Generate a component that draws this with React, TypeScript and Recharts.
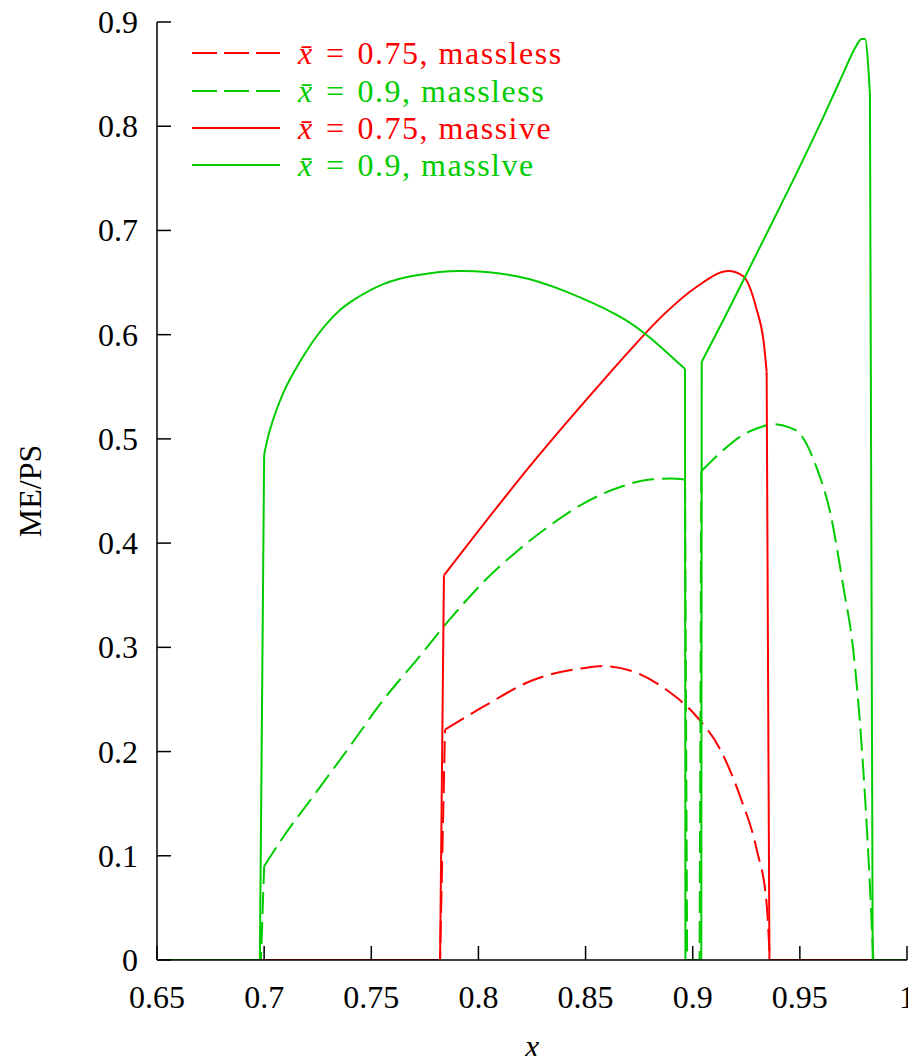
import { LineChart, Line, XAxis, YAxis, Legend } from 'recharts'

// x ticks / y ticks
const X_TICKS = [0.65, 0.7, 0.75, 0.8, 0.85, 0.9, 0.95, 1]
const Y_TICKS = [0, 0.1, 0.2, 0.3, 0.4, 0.5, 0.6, 0.7, 0.8, 0.9]

// xbar = 0.75, massless (red dashed): flat/jump parts and the smooth arc
const RED_DASH_EDGE_L = [{ x: 0.65, y: 0 }, { x: 0.7821, y: 0 }, { x: 0.7844, y: 0.221 }]
const RED_DASH_ARC = [
  { x: 0.7844, y: 0.221 }, { x: 0.8023, y: 0.243 }, { x: 0.8256, y: 0.2687 },
  { x: 0.849, y: 0.28 }, { x: 0.8583, y: 0.282 }, { x: 0.8723, y: 0.2767 },
  { x: 0.8879, y: 0.259 }, { x: 0.9019, y: 0.2334 }, { x: 0.9127, y: 0.2025 },
  { x: 0.9221, y: 0.157 }, { x: 0.9299, y: 0.1055 }, { x: 0.9345, y: 0.0537 },
  { x: 0.936, y: 0 },
]
const RED_DASH_EDGE_R = [{ x: 0.936, y: 0 }, { x: 1, y: 0 }]

// xbar = 0.9, massless (green dashed)
const GREEN_DASH_EDGE_L = [{ x: 0.65, y: 0 }, { x: 0.6985, y: 0 }, { x: 0.7, y: 0.09 }]
const GREEN_DASH_ARC_1 = [
  { x: 0.7, y: 0.09 }, { x: 0.7089, y: 0.118 }, { x: 0.7245, y: 0.1615 },
  { x: 0.74, y: 0.205 }, { x: 0.7556, y: 0.2495 }, { x: 0.7712, y: 0.288 },
  { x: 0.7867, y: 0.327 }, { x: 0.8023, y: 0.3626 }, { x: 0.8179, y: 0.392 },
  { x: 0.8334, y: 0.417 }, { x: 0.849, y: 0.438 }, { x: 0.8645, y: 0.4526 },
  { x: 0.8801, y: 0.461 }, { x: 0.89, y: 0.462 }, { x: 0.8964, y: 0.461 },
]
const GREEN_DASH_GAP = [
  { x: 0.8964, y: 0.461 }, { x: 0.8974, y: 0 }, { x: 0.9032, y: 0 }, { x: 0.904, y: 0.469 },
]
const GREEN_DASH_ARC_2 = [
  { x: 0.904, y: 0.469 }, { x: 0.9141, y: 0.489 }, { x: 0.922, y: 0.502 },
  { x: 0.9299, y: 0.51 }, { x: 0.9376, y: 0.514 }, { x: 0.945, y: 0.511 },
  { x: 0.95, y: 0.505 }, { x: 0.9579, y: 0.472 }, { x: 0.9641, y: 0.43 },
  { x: 0.9703, y: 0.358 }, { x: 0.975, y: 0.296 }, { x: 0.9781, y: 0.226 },
  { x: 0.9804, y: 0.157 }, { x: 0.9827, y: 0.071 }, { x: 0.9843, y: 0 },
]
const GREEN_DASH_EDGE_R = [{ x: 0.9843, y: 0 }, { x: 1, y: 0 }]

// xbar = 0.75, massive (red solid)
const RED_SOLID_EDGE_L = [{ x: 0.65, y: 0 }, { x: 0.7821, y: 0 }, { x: 0.7839, y: 0.369 }]
const RED_SOLID_ARC = [
  { x: 0.7839, y: 0.369 }, { x: 0.8085, y: 0.434 }, { x: 0.8241, y: 0.474 },
  { x: 0.8396, y: 0.512 }, { x: 0.8552, y: 0.549 }, { x: 0.8707, y: 0.585 },
  { x: 0.8863, y: 0.619 }, { x: 0.9019, y: 0.646 }, { x: 0.9166, y: 0.661 },
  { x: 0.9236, y: 0.656 }, { x: 0.9299, y: 0.6237 }, { x: 0.933, y: 0.595 },
  { x: 0.9345, y: 0.5645 },
]
const RED_SOLID_EDGE_R = [{ x: 0.9345, y: 0.5645 }, { x: 0.9358, y: 0 }, { x: 1, y: 0 }]

// xbar = 0.9, massive (green solid)
const GREEN_SOLID_EDGE_L = [{ x: 0.65, y: 0 }, { x: 0.698, y: 0 }, { x: 0.7, y: 0.4846 }]
const GREEN_SOLID_ARC_1 = [
  { x: 0.7, y: 0.4846 }, { x: 0.7027, y: 0.5086 }, { x: 0.7089, y: 0.544 },
  { x: 0.7167, y: 0.574 }, { x: 0.7245, y: 0.5985 }, { x: 0.7323, y: 0.6175 },
  { x: 0.74, y: 0.631 }, { x: 0.7556, y: 0.6485 }, { x: 0.7712, y: 0.657 },
  { x: 0.7914, y: 0.661 }, { x: 0.8179, y: 0.656 }, { x: 0.8412, y: 0.641 },
  { x: 0.8645, y: 0.619 }, { x: 0.8801, y: 0.597 }, { x: 0.8964, y: 0.567 },
]
const GREEN_SOLID_GAP = [
  { x: 0.8964, y: 0.567 }, { x: 0.8966, y: 0 }, { x: 0.904, y: 0 }, { x: 0.9042, y: 0.574 },
]
const GREEN_SOLID_ARC_2 = [
  { x: 0.9042, y: 0.574 }, { x: 0.9143, y: 0.614 }, { x: 0.9299, y: 0.678 },
  { x: 0.9454, y: 0.742 }, { x: 0.961, y: 0.809 }, { x: 0.9703, y: 0.851 },
  { x: 0.9757, y: 0.8748 }, { x: 0.9788, y: 0.8837 }, { x: 0.9804, y: 0.8837 },
  { x: 0.9827, y: 0.8316 },
]
const GREEN_SOLID_EDGE_R = [{ x: 0.9827, y: 0.8316 }, { x: 0.984, y: 0 }, { x: 1, y: 0 }]

const RED = '#ff0000'
const GREEN = '#00cc00'
const DASH = '22 8'
const FONT = "'Liberation Serif', 'Times New Roman', serif"
const FONT_SIZE = 32
const TICK_LEN = 14

const SERIES = [
  { id: 'a', color: RED, dash: DASH, xbar: '0.75', kind: 'massless',
    pieces: [[RED_DASH_EDGE_L, 'linear'], [RED_DASH_ARC, 'monotone'], [RED_DASH_EDGE_R, 'linear']] },
  { id: 'b', color: GREEN, dash: DASH, xbar: '0.9', kind: 'massless',
    pieces: [[GREEN_DASH_EDGE_L, 'linear'], [GREEN_DASH_ARC_1, 'monotone'], [GREEN_DASH_GAP, 'linear'],
      [GREEN_DASH_ARC_2, 'monotone'], [GREEN_DASH_EDGE_R, 'linear']] },
  { id: 'c', color: RED, dash: undefined, xbar: '0.75', kind: 'massive',
    pieces: [[RED_SOLID_EDGE_L, 'linear'], [RED_SOLID_ARC, 'monotone'], [RED_SOLID_EDGE_R, 'linear']] },
  { id: 'd', color: GREEN, dash: undefined, xbar: '0.9', kind: 'masslve',
    pieces: [[GREEN_SOLID_EDGE_L, 'linear'], [GREEN_SOLID_ARC_1, 'natural'], [GREEN_SOLID_GAP, 'linear'],
      [GREEN_SOLID_ARC_2, 'monotone'], [GREEN_SOLID_EDGE_R, 'linear']] },
] as const

const textStyle = { fontFamily: FONT, fontSize: FONT_SIZE, fill: '#000' }

const BottomTick = ({ x, y, payload }: any) => (
  <g>
    <line x1={x} y1={y} x2={x} y2={y - TICK_LEN} stroke="#000" strokeWidth={1.5} />
    <text x={x} y={y + 48} textAnchor="middle" style={textStyle}>
      {String(payload.value)}
    </text>
  </g>
)

const TopTick = ({ x, y }: any) => (
  <line x1={x} y1={y} x2={x} y2={y + TICK_LEN} stroke="#000" strokeWidth={1.5} />
)

const LeftTick = ({ x, y, payload }: any) => (
  <g>
    <line x1={x} y1={y} x2={x + TICK_LEN} y2={y} stroke="#000" strokeWidth={1.5} />
    <text x={x - 19} y={y + 11} textAnchor="end" style={textStyle}>
      {String(payload.value)}
    </text>
  </g>
)

const RightTick = ({ x, y }: any) => (
  <line x1={x} y1={y} x2={x - TICK_LEN} y2={y} stroke="#000" strokeWidth={1.5} />
)

const LEGEND_ROWS = [53, 91, 128, 165]

function LegendBox() {
  return (
    <div style={{ position: 'relative', width: 620, height: 190 }}>
      {SERIES.map((s, i) => (
        <div
          key={s.id}
          style={{
            position: 'absolute', left: 192, top: LEGEND_ROWS[i] - 18, height: 36,
            display: 'flex', alignItems: 'center', whiteSpace: 'nowrap',
          }}
        >
          <svg width={88} height={36}>
            <line x1={0} y1={18} x2={88} y2={18} stroke={s.color} strokeWidth={2} strokeDasharray={s.dash ? '25 7' : undefined} />
          </svg>
          <span style={{ marginLeft: 18, color: s.color, fontFamily: FONT, fontSize: FONT_SIZE, lineHeight: '36px', letterSpacing: 1.5 }}>
            <i>x&#772;</i>{'\u2004=\u2004'}{s.xbar}, {s.kind}
          </span>
        </div>
      ))}
    </div>
  )
}

export default function App() {
  return (
    <div style={{ margin: -8 }}>
      <LineChart width={916} height={1064} margin={{ top: 22, right: 9, bottom: 0, left: 0 }}>
        <XAxis
          dataKey="x" type="number" domain={[0.65, 1]} allowDataOverflow ticks={X_TICKS} interval={0}
          height={104} tickSize={0} tickMargin={0} tickLine={false} tick={<BottomTick />}
          axisLine={{ stroke: '#000', strokeWidth: 1.5 }}
          label={{
            content: ({ viewBox }: any) => (
              <text x={viewBox.x + viewBox.width / 2} y={viewBox.y + viewBox.height - 7} textAnchor="middle" style={{ ...textStyle, fontStyle: 'italic' }}>
                x
              </text>
            ),
          }}
        />
        <XAxis
          xAxisId="top" orientation="top" dataKey="x" type="number" domain={[0.65, 1]} allowDataOverflow
          ticks={X_TICKS} interval={0} height={0} tickSize={0} tickMargin={0} tickLine={false} tick={<TopTick />}
          axisLine={{ stroke: '#000', strokeWidth: 1.5 }}
        />
        <YAxis
          type="number" domain={[0, 0.9]} allowDataOverflow ticks={Y_TICKS} interval={0}
          width={157} tickSize={0} tickMargin={0} tickLine={false} tick={<LeftTick />}
          axisLine={{ stroke: '#000', strokeWidth: 1.5 }}
          label={{
            content: ({ viewBox }: any) => {
              const cx = viewBox.x + 30
              const cy = viewBox.y + viewBox.height / 2
              return (
                <text x={cx} y={cy} textAnchor="middle" dominantBaseline="central"
                  transform={`rotate(-90, ${cx}, ${cy})`} style={textStyle}>
                  ME/PS
                </text>
              )
            },
          }}
        />
        <YAxis
          yAxisId="right" orientation="right" type="number" domain={[0, 0.9]} allowDataOverflow
          ticks={Y_TICKS} interval={0} width={0} tickSize={0} tickMargin={0} tickLine={false} tick={<RightTick />}
          axisLine={{ stroke: '#000', strokeWidth: 1.5 }}
        />
        <Legend
          layout="vertical" align="center" verticalAlign="middle"
          wrapperStyle={{ left: 0, top: 0, width: 620 }}
          content={() => <LegendBox />}
        />
        {SERIES.flatMap((s) =>
          s.pieces.map(([points, curve], j) => (
            <Line
              key={`${s.id}-${j}`} data={points as any} dataKey="y" type={curve as any} stroke={s.color}
              strokeWidth={2} strokeDasharray={s.dash} dot={false} activeDot={false}
              legendType="none" isAnimationActive={false}
            />
          ))
        )}
      </LineChart>
    </div>
  )
}
